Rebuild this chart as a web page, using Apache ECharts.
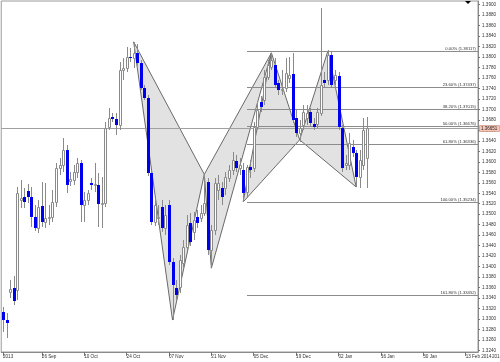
<!DOCTYPE html>
<html><head><meta charset="utf-8">
<script src="https://cdn.jsdelivr.net/npm/echarts@6/dist/echarts.min.js"></script>
<style>html,body{margin:0;padding:0;background:#fff}#c{width:500px;height:362px}</style>
</head><body><div id="c"></div>
<script>
// ---- data ----
const categoryCount = 135;
const xTickLabels = [[0,'2013'],[11,'26 Sep'],[23,'10 Oct'],[35,'24 Oct'],[47,'07 Nov'],[59,'21 Nov'],[71,'05 Dec'],[83,'19 Dec'],[95,'02 Jan'],[107,'16 Jan'],[119,'30 Jan'],[131,'13 Feb 2014']];
const yTicks = [1.3240,1.3260,1.3280,1.3300,1.3320,1.3340,1.3360,1.3380,1.3400,1.3420,1.3440,1.3460,1.3480,1.3500,1.3520,1.3540,1.3560,1.3580,1.3600,1.3620,1.3640,1.3660,1.3680,1.3700,1.3720,1.3740,1.3760,1.3780,1.3800,1.3820,1.3840,1.3860,1.3880,1.3900];
// [open, close, low, high]
const candles = [
[1.3313,1.3298,1.3275,1.3323],[1.3298,1.3292,1.3264,1.3311],[1.3352,1.3357,1.3340,1.3375],[1.3359,1.3334,1.3327,1.3382],
[1.3355,1.3541,1.3336,1.3552],[1.3527,1.3531,1.3512,1.3566],[1.3533,1.3523,1.3512,1.3550],[1.3544,1.3533,1.3521,1.3558],
[1.3533,1.3495,1.3476,1.3552],[1.3495,1.3474,1.3468,1.3518],[1.3474,1.3514,1.3464,1.3527],[1.3516,1.3485,1.3476,1.3562],
[1.3485,1.3493,1.3474,1.3560],[1.3493,1.3495,1.3479,1.3518],[1.3495,1.3523,1.3485,1.3546],[1.3523,1.3588,1.3514,1.3598],
[1.3588,1.3594,1.3575,1.3607],[1.3594,1.3623,1.3581,1.3646],[1.3623,1.3556,1.3541,1.3632],[1.3564,1.3567,1.3554,1.3581],
[1.3566,1.3581,1.3556,1.3594],[1.3581,1.3598,1.3569,1.3607],[1.3598,1.3518,1.3485,1.3604],[1.3518,1.3527,1.3485,1.3542],
[1.3527,1.3541,1.3518,1.3546],[1.3560,1.3556,1.3546,1.3569],[1.3556,1.3558,1.3542,1.3598],[1.3556,1.3520,1.3476,1.3579],
[1.3520,1.3521,1.3474,1.3571],[1.3521,1.3665,1.3514,1.3676],[1.3667,1.3684,1.3661,1.3703],[1.3686,1.3682,1.3676,1.3693],
[1.3682,1.3670,1.3651,1.3693],[1.3670,1.3775,1.3661,1.3791],[1.3775,1.3779,1.3756,1.3798],[1.3779,1.3800,1.3772,1.3819],
[1.3800,1.3798,1.3791,1.3817],[1.3798,1.3808,1.3779,1.3829],[1.3808,1.3789,1.3783,1.3825],[1.3789,1.3741,1.3737,1.3794],
[1.3741,1.3722,1.3718,1.3747],[1.3722,1.3579,1.3573,1.3728],[1.3579,1.3485,1.3479,1.3585],[1.3485,1.3518,1.3478,1.3531],
[1.3493,1.3495,1.3479,1.3518],[1.3514,1.3474,1.3466,1.3527],[1.3474,1.3499,1.3460,1.3518],[1.3518,1.3409,1.3403,1.3527],
[1.3409,1.3365,1.3298,1.3416],[1.3359,1.3346,1.3336,1.3375],[1.3361,1.3413,1.3350,1.3422],[1.3407,1.3437,1.3397,1.3451],
[1.3437,1.3479,1.3432,1.3499],[1.3483,1.3447,1.3439,1.3502],[1.3466,1.3489,1.3451,1.3504],[1.3495,1.3483,1.3474,1.3508],
[1.3493,1.3502,1.3485,1.3518],[1.3502,1.3521,1.3497,1.3579],[1.3562,1.3432,1.3422,1.3569],[1.3432,1.3470,1.3399,1.3479],
[1.3470,1.3560,1.3460,1.3569],[1.3546,1.3560,1.3527,1.3575],[1.3550,1.3533,1.3518,1.3562],[1.3550,1.3571,1.3537,1.3581],
[1.3569,1.3585,1.3562,1.3594],[1.3585,1.3604,1.3575,1.3619],[1.3602,1.3588,1.3581,1.3613],[1.3588,1.3594,1.3575,1.3607],
[1.3585,1.3541,1.3523,1.3598],[1.3542,1.3590,1.3531,1.3594],[1.3590,1.3585,1.3569,1.3604],[1.3588,1.3667,1.3581,1.3676],
[1.3667,1.3699,1.3661,1.3714],[1.3714,1.3705,1.3695,1.3726],[1.3718,1.3762,1.3709,1.3775],[1.3762,1.3785,1.3756,1.3794],
[1.3781,1.3794,1.3775,1.3808],[1.3785,1.3747,1.3741,1.3798],[1.3751,1.3737,1.3728,1.3756],[1.3737,1.3739,1.3728,1.3775],
[1.3741,1.3770,1.3733,1.3798],[1.3760,1.3766,1.3751,1.3800],[1.3768,1.3680,1.3674,1.3808],[1.3684,1.3655,1.3647,1.3699],
[1.3655,1.3665,1.3638,1.3680],[1.3670,1.3695,1.3661,1.3709],[1.3684,1.3693,1.3670,1.3709],[1.3695,1.3674,1.3668,1.3703],
[1.3672,1.3667,1.3661,1.3684],[1.3672,1.3695,1.3665,1.3703],[1.3693,1.3747,1.3688,1.3894],[1.3756,1.3751,1.3741,1.3772],
[1.3756,1.3804,1.3747,1.3814],[1.3804,1.3747,1.3741,1.3810],[1.3756,1.3766,1.3747,1.3775],[1.3764,1.3667,1.3661,1.3772],
[1.3665,1.3588,1.3581,1.3670],[1.3594,1.3598,1.3585,1.3613],[1.3594,1.3636,1.3585,1.3655],[1.3628,1.3617,1.3609,1.3642],
[1.3617,1.3571,1.3552,1.3623],[1.3571,1.3604,1.3550,1.3623],[1.3594,1.3661,1.3585,1.3684],[1.3607,1.3665,1.3550,1.3686]
];
const fibRatios = ['0.00%','23.60%','38.20%','50.00%','61.80%','100.00%','161.80%'];
const fibPrices = [1.38117,1.37437,1.37015,1.36676,1.36336,1.35234,1.33452];
const fibStartIndex = 69;
// harmonic patterns: X, A, B, C, D as [barIndex, price]
const pattern1 = [[37,1.3829],[48,1.3298],[57,1.3576],[59,1.3397],[76,1.3808]];
const pattern2 = [[68,1.35234],[76,1.3808],[84,1.3642],[92,1.38117],[100,1.3552]];
const bidPrice = 1.36651;

// ---- chart ----
const categories = Array(categoryCount).fill('');
xTickLabels.forEach(([i, t]) => { categories[i] = t; });
const FONT = 'Liberation Sans, Arial, sans-serif';

function candleItem(params, api) {
  const i = api.value(0), o = api.value(1), c = api.value(2), l = api.value(3), h = api.value(4);
  const pO = api.coord([i, o]), pC = api.coord([i, c]), pL = api.coord([i, l]), pH = api.coord([i, h]);
  const xi = Math.round(pO[0]);
  const top = Math.round(Math.min(pO[1], pC[1]));
  const bot = Math.round(Math.max(pO[1], pC[1]));
  const bull = c >= o;
  const children = [{type:'line', shape:{x1:xi+0.5, y1:Math.round(pH[1]), x2:xi+0.5, y2:Math.round(pL[1])}, style:{stroke:'#8a8a8a', lineWidth:1}}];
  if (bull) {
    children.push({type:'rect', shape:{x:xi-0.5, y:top+0.5, width:2, height:Math.max(bot-top,1)}, style:{fill:'#ffffff', stroke:'#8a8a8a', lineWidth:1}});
  } else {
    children.push({type:'rect', shape:{x:xi-1, y:top, width:3, height:Math.max(bot-top,1)}, style:{fill:'#0000f0', stroke:null}});
  }
  return {type:'group', children};
}

function patternItem(params, api) {
  const P = [];
  for (let k = 0; k < 5; k++) P.push(api.coord([api.value(2*k), api.value(2*k+1)]));
  const [X, A, B, C, D] = P;
  const st = {fill:'#e2e2e2', stroke:'#6a6a6a', lineWidth:1};
  return {type:'group', children:[
    {type:'polygon', shape:{points:[X, A, B]}, style:st},
    {type:'polygon', shape:{points:[B, C, D]}, style:st}
  ]};
}

function fibItem(params, api) {
  const k = api.value(2);
  const s = api.coord([api.value(0), api.value(1)]);
  const cs = params.coordSys;
  const xe = cs.x + cs.width;
  const y = Math.round(s[1]) + 0.5;
  return {type:'group', children:[
    {type:'line', shape:{x1:Math.round(s[0]), y1:y, x2:xe, y2:y}, style:{stroke:'#8c8c8c', lineWidth:1}},
    {type:'text', style:{x:xe-2, y:y-0.5, text:fibRatios[k] + ' (' + fibPrices[k].toFixed(5) + ')', align:'right', verticalAlign:'bottom', fontSize:4.2, fontFamily:FONT, fill:'#333'}}
  ]};
}

function bidItem(params, api) {
  const s = api.coord([0, api.value(1)]);
  const cs = params.coordSys;
  const y = Math.round(s[1]) + 0.5;
  const xe = cs.x + cs.width;
  return {type:'group', children:[
    {type:'line', shape:{x1:cs.x, y1:y, x2:xe, y2:y}, style:{stroke:'#a0a0a0', lineWidth:1}},
    {type:'rect', shape:{x:xe+1.5, y:y-3, width:20, height:6}, style:{fill:'#f6c6b6', stroke:'#c88a78', lineWidth:0.6}},
    {type:'text', style:{x:xe+3, y:y, text:api.value(1).toFixed(5), align:'left', verticalAlign:'middle', fontSize:4.5, fontFamily:FONT, fill:'#222'}}
  ]};
}

const chart = echarts.init(document.getElementById('c'), null, {renderer:'canvas'});
chart.setOption({
  animation: false,
  backgroundColor: '#ffffff',
  grid: {left:1, right:22, top:1, bottom:10, show:true, borderColor:'#9a9a9a', borderWidth:1, backgroundColor:'#ffffff'},
  xAxis: {
    type:'category', data:categories, boundaryGap:true,
    axisLine:{lineStyle:{color:'#8a8a8a', width:1}},
    axisTick:{show:true, alignWithLabel:true, interval:(i, v) => v !== '', length:4, lineStyle:{color:'#777'}},
    axisLabel:{interval:(i, v) => v !== '', align:'left', margin:2, fontSize:4.6, fontFamily:FONT, color:'#333'},
    splitLine:{show:false}
  },
  yAxis: {
    type:'value', position:'right', min:1.3237, max:1.3907, scale:true,
    axisLine:{show:true, lineStyle:{color:'#8a8a8a', width:1}},
    axisTick:{show:true, length:2, customValues:yTicks, lineStyle:{color:'#777'}},
    axisLabel:{customValues:yTicks, formatter:v => v.toFixed(4), fontSize:4.6, fontFamily:FONT, color:'#333', margin:4},
    splitLine:{show:false}
  },
  series: [
    {type:'custom', renderItem:patternItem, z:1, silent:true,
     data:[pattern1.flat(), pattern2.flat()], encode:{x:[0,2,4,6,8], y:[1,3,5,7,9]}},
    {type:'custom', renderItem:fibItem, z:2, silent:true,
     data:fibPrices.map((p, k) => [fibStartIndex, p, k]), encode:{x:0, y:1}},
    {type:'custom', renderItem:bidItem, z:2, silent:true,
     data:[[0, bidPrice]], encode:{x:0, y:1}},
    {type:'custom', renderItem:candleItem, z:3, silent:true,
     data:candles.map((c, i) => [i, c[0], c[1], c[2], c[3]]), encode:{x:0, y:[1,2,3,4]}}
  ],
  graphic: [
    {type:'polygon', shape:{points:[[465,1],[471,1],[468,4]]}, style:{fill:'#000'}, z:10},
    {type:'text', left:492, top:354, style:{text:'2014', fontSize:4.6, fontFamily:FONT, fill:'#333'}}
  ]
});
</script></body></html>
